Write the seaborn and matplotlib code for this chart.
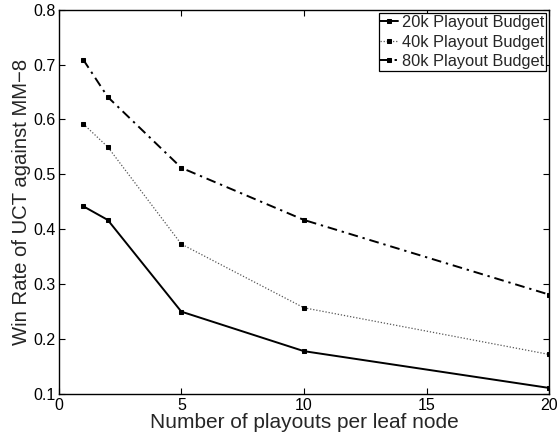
import matplotlib
matplotlib.use("Agg")
import matplotlib.pyplot as plt
import seaborn as sns
import pandas as pd

playouts = [1, 2, 5, 10, 20]
win_20k = [0.442, 0.417, 0.250, 0.178, 0.111]
win_40k = [0.592, 0.550, 0.373, 0.257, 0.172]
win_80k = [0.709, 0.641, 0.512, 0.417, 0.281]
series_names = ["20k Playout Budget", "40k Playout Budget", "80k Playout Budget"]
x_ticks = [0, 5, 10, 15, 20]
y_ticks = [0.1, 0.2, 0.3, 0.4, 0.5, 0.6, 0.7, 0.8]

sns.set_style("ticks")
plt.rcParams["font.family"] = ["Liberation Sans", "DejaVu Sans"]
plt.rcParams["xtick.direction"] = "in"
plt.rcParams["ytick.direction"] = "in"

fig = plt.figure(figsize=(5.58, 4.38), dpi=100)
ax = fig.add_axes([0.1052, 0.1005, 0.879, 0.8774])

styles = [
    dict(linestyle="-", linewidth=1.4, color="black"),
    dict(linestyle=(0, (1, 1.5)), linewidth=0.9, color="#555555"),
    dict(linestyle=(0, (5, 2.5, 1.2, 2.5)), linewidth=1.4, color="black"),
]
for name, vals, st in zip(series_names, [win_20k, win_40k, win_80k], styles):
    df = pd.DataFrame({"x": playouts, "y": vals})
    sns.lineplot(data=df, x="x", y="y", ax=ax, label=name, marker="s",
                 markersize=2.2, markerfacecolor="black", markeredgecolor="black",
                 **st)

ax.set_xlim(0, 20)
ax.set_ylim(0.1, 0.8)
ax.set_xticks(x_ticks)
ax.set_yticks(y_ticks)
ax.set_xticklabels([str(t) for t in x_ticks])
ax.set_yticklabels([f"{t:g}" for t in y_ticks])
ax.tick_params(axis="both", which="both", direction="in", top=True, right=True,
               length=4, width=0.8, labelsize=11.5, colors="black")
ax.tick_params(axis="y", pad=2)
ax.tick_params(axis="x", pad=3)
for sp in ax.spines.values():
    sp.set_visible(True)
    sp.set_linewidth(1.0)
    sp.set_color("black")

ax.set_xlabel("Number of playouts per leaf node", fontsize=15, labelpad=0)
ax.set_ylabel("Win Rate of UCT against MM\u22128", fontsize=14.6, labelpad=2)

leg = ax.legend(loc="upper right", fontsize=11.8, frameon=True, fancybox=False,
                edgecolor="black", framealpha=1, borderpad=0.1, handlelength=1.1,
                handletextpad=0.2, labelspacing=0.28, borderaxespad=0.22)
leg.get_frame().set_linewidth(0.9)

fig.savefig("out.png", dpi=100)
